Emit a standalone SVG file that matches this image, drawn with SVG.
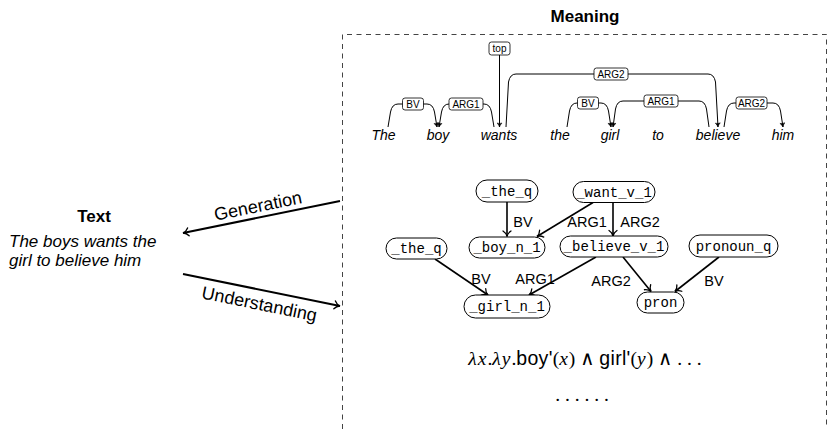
<svg xmlns="http://www.w3.org/2000/svg" width="828" height="429" viewBox="0 0 828 429">
  <style>
    .sans { font-family: "Liberation Sans", "DejaVu Sans", sans-serif; fill: #000; }
    .title { font-size: 17px; font-weight: bold; text-anchor: middle; }
    .it { font-style: italic; }
    .word { font-size: 14px; font-style: italic; text-anchor: middle; }
    .tag { font-size: 10px; text-anchor: middle; }
    .tagbox { fill: #fff; stroke: #000; stroke-width: 0.8; }
    .dep { fill: none; stroke: #000; stroke-width: 1; }
    .node rect { fill: #fff; stroke: #000; stroke-width: 1; }
    .node text { font-family: "Liberation Mono", "DejaVu Sans Mono", monospace; font-size: 14px; text-anchor: middle; fill: #000; }
    .edge { fill: none; stroke: #000; stroke-width: 1.6; }
    .elabel { font-size: 14.5px; text-anchor: middle; }
    .flow { fill: none; stroke: #000; stroke-width: 2; }
    .flowlabel { font-size: 18px; text-anchor: middle; }
    .math { font-family: "Liberation Serif", "DejaVu Serif", serif; font-size: 19.5px; fill: #000; }
    .mi { font-style: italic; letter-spacing: 1px; }
    .rm { font-family: "Liberation Sans", "DejaVu Sans", sans-serif; letter-spacing: 0.3px; }
  </style>
  <defs>
    <marker id="to" viewBox="-7 -5 8 10" markerWidth="8" markerHeight="10" refX="0" refY="0" orient="auto" markerUnits="userSpaceOnUse">
      <path d="M -5.5 -4 C -4 -1.6 -1.6 -0.3 0 0 C -1.6 0.3 -4 1.6 -5.5 4" fill="none" stroke="#000" stroke-width="1.3" stroke-linecap="round"/>
    </marker>
    <marker id="tip" viewBox="-5 -3 6 6" markerWidth="6" markerHeight="6" refX="0" refY="0" orient="auto" markerUnits="userSpaceOnUse">
      <path d="M -4 -2.5 Q -2 -0.5 0 0 Q -2 0.5 -4 2.5 Q -3 0 -4 -2.5 Z" fill="#000" stroke="#000" stroke-width="0.5"/>
    </marker>
  </defs>

  <!-- Meaning frame -->
  <text class="sans title" x="585" y="22">Meaning</text>
  <path d="M342.5 429 V34.5 H826.5 V429" fill="none" stroke="#444" stroke-width="1" stroke-dasharray="5 4.5"/>

  <!-- Text side -->
  <g id="text-node">
    <text class="sans title" x="94" y="222" font-size="18">Text</text>
    <text class="sans it" font-size="17" x="9" y="247">The boys wants the</text>
    <text class="sans it" font-size="17" x="9" y="266">girl to believe him</text>
  </g>

  <!-- Generation / Understanding arrows -->
  <g id="flows">
    <path class="flow" d="M340 201 L183 233" marker-end="url(#to)"/>
    <path class="flow" d="M183 274 L340 306" marker-end="url(#to)"/>
    <text class="sans flowlabel" transform="translate(258 206) rotate(-11.5)" y="6">Generation</text>
    <text class="sans flowlabel" transform="translate(259 306) rotate(11.5)" y="4">Understanding</text>
  </g>

  <!-- Dependency analysis of the sentence -->
  <g id="dependency">
    <g id="words" class="sans">
      <text class="word" x="383.5" y="140">The</text>
      <text class="word" x="438" y="140">boy</text>
      <text class="word" x="499" y="140">wants</text>
      <text class="word" x="560" y="140">the</text>
      <text class="word" x="610" y="140">girl</text>
      <text class="word" x="658" y="140">to</text>
      <text class="word" x="718" y="140">believe</text>
      <text class="word" x="783" y="140">him</text>
    </g>
    <g id="arcs">
      <path class="dep" d="M388 127 L390.5 112 Q392 104 398 104 H427 Q433 104 434.5 112 L437 127" marker-end="url(#tip)"/>
      <path class="dep" d="M494 127 L491.5 112 Q490 104 484 104 H449 Q443 104 441.5 112 L439 127" marker-end="url(#tip)"/>
      <path class="dep" d="M499.5 55 V127" marker-end="url(#tip)"/>
      <path class="dep" d="M506 127 L508.5 82 Q510 74 516 74 H708 Q714 74 715.5 82 L718 127" marker-end="url(#tip)"/>
      <path class="dep" d="M567 127 L569.5 111 Q571 103 577 103 H601 Q607 103 608.5 111 L611 127" marker-end="url(#tip)"/>
      <path class="dep" d="M709 127 L706.5 109 Q705 101 699 101 H623 Q617 101 615.5 109 L613 127" marker-end="url(#tip)"/>
      <path class="dep" d="M724 127 L726.5 111 Q728 103 734 103 H773 Q779 103 780.5 111 L783 127" marker-end="url(#tip)"/>
    </g>
    <g id="arc-labels" class="sans">
      <rect class="tagbox" x="402.5" y="98" width="21" height="12" rx="2.5"/>
      <text class="tag" x="413" y="107.6">BV</text>
      <rect class="tagbox" x="449" y="98" width="34" height="12" rx="2.5"/>
      <text class="tag" x="466" y="107.6">ARG1</text>
      <rect class="tagbox" x="489" y="42" width="21" height="13" rx="2.5"/>
      <text class="tag" x="499.5" y="51.8">top</text>
      <rect class="tagbox" x="594" y="68" width="34" height="12" rx="2.5"/>
      <text class="tag" x="611" y="77.6">ARG2</text>
      <rect class="tagbox" x="577.5" y="97" width="21" height="12" rx="2.5"/>
      <text class="tag" x="588" y="106.6">BV</text>
      <rect class="tagbox" x="644" y="95" width="34" height="12" rx="2.5"/>
      <text class="tag" x="661" y="104.6">ARG1</text>
      <rect class="tagbox" x="736" y="97" width="31" height="12" rx="2.5"/>
      <text class="tag" x="751.5" y="106.6">ARG2</text>
    </g>
  </g>

  <!-- Semantic graph -->
  <g id="connectors">
    <path class="edge" d="M507 202 L507 236.5" marker-end="url(#to)"/>
    <path class="edge" d="M593 202.5 L537 236.5" marker-end="url(#to)"/>
    <path class="edge" d="M613 202.5 L613 236" marker-end="url(#to)"/>
    <path class="edge" d="M435 259 L488 295" marker-end="url(#to)"/>
    <path class="edge" d="M596 257 L529 295" marker-end="url(#to)"/>
    <path class="edge" d="M623 257 L651 291.5" marker-end="url(#to)"/>
    <path class="edge" d="M719 257 L675 291.5" marker-end="url(#to)"/>
    <g class="sans">
      <text class="elabel" x="523" y="227">BV</text>
      <text class="elabel" x="587" y="227">ARG1</text>
      <text class="elabel" x="640" y="227">ARG2</text>
      <text class="elabel" x="481" y="284">BV</text>
      <text class="elabel" x="535" y="284">ARG1</text>
      <text class="elabel" x="611" y="286">ARG2</text>
      <text class="elabel" x="714" y="286">BV</text>
    </g>
  </g>

  <g id="n-the-q-1" class="node">
    <rect x="476" y="180" width="62" height="22" rx="11"/>
    <text x="507" y="195.5">_the_q</text>
  </g>
  <g id="n-want-v-1" class="node">
    <rect x="573" y="181.5" width="82" height="21" rx="10.5"/>
    <text x="614" y="196.5">_want_v_1</text>
  </g>
  <g id="n-boy-n-1" class="node">
    <rect x="469" y="237" width="76" height="21" rx="10.5"/>
    <text x="507" y="252">_boy_n_1</text>
  </g>
  <g id="n-believe-v-1" class="node">
    <rect x="560" y="236" width="108" height="21" rx="10.5"/>
    <text x="614" y="251">_believe_v_1</text>
  </g>
  <g id="n-the-q-2" class="node">
    <rect x="386" y="238" width="61" height="21" rx="10.5"/>
    <text x="416.5" y="253">_the_q</text>
  </g>
  <g id="n-pronoun-q" class="node">
    <rect x="689" y="235" width="89" height="22" rx="11"/>
    <text x="733.5" y="250.5">pronoun_q</text>
  </g>
  <g id="n-girl-n-1" class="node">
    <rect x="464" y="295" width="86" height="23" rx="11.5"/>
    <text x="507" y="311">_girl_n_1</text>
  </g>
  <g id="n-pron" class="node">
    <rect x="637" y="292" width="47" height="21" rx="10.5"/>
    <text x="660.5" y="307">pron</text>
  </g>

  <!-- Logical form -->
  <text class="math" x="585" y="365" text-anchor="middle"><tspan class="mi">λx</tspan>.<tspan class="mi">λy</tspan>.<tspan class="rm">boy'</tspan>(<tspan class="mi">x</tspan>) ∧ <tspan class="rm">girl'</tspan>(<tspan class="mi">y</tspan>) ∧ . . .</text>
  <text class="math" x="582" y="401" text-anchor="middle" font-size="18">. . . . . .</text>
</svg>
